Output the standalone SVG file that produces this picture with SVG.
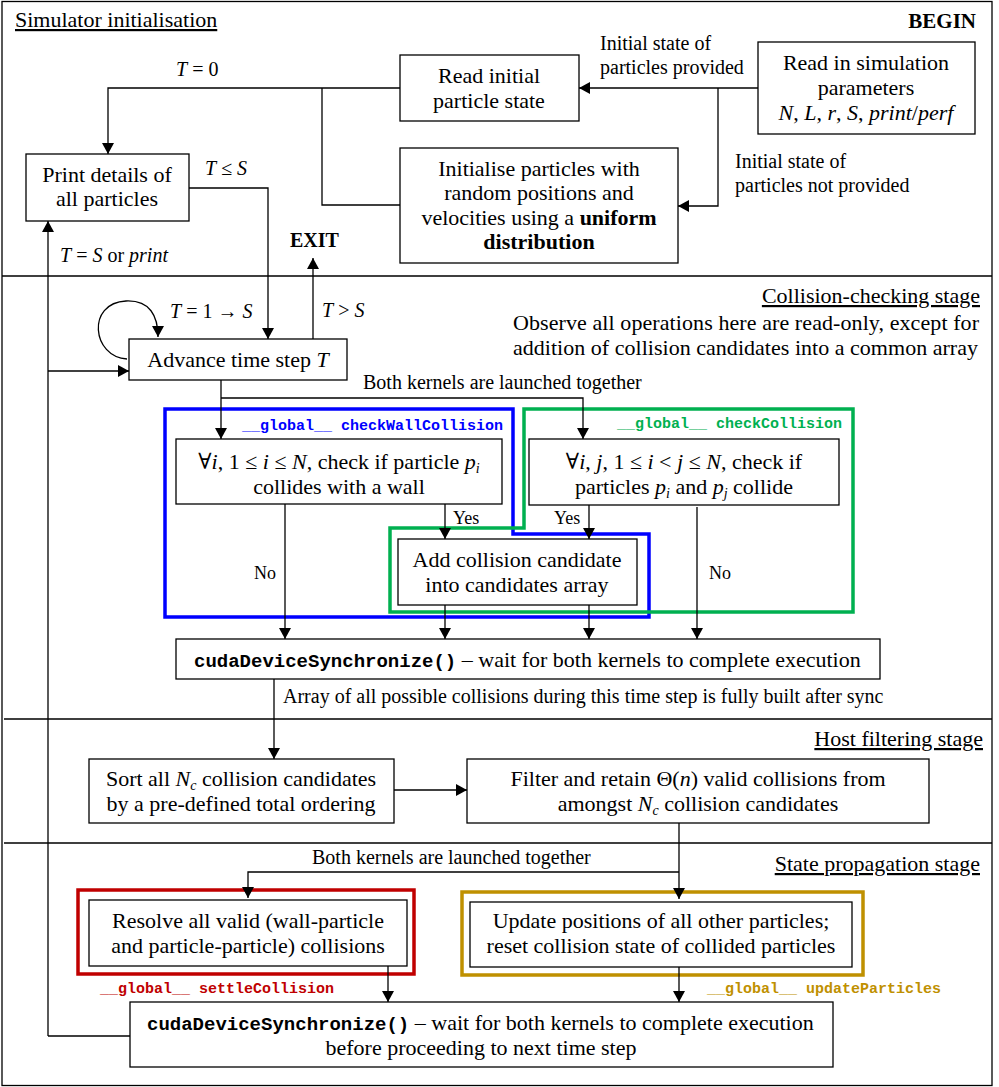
<svg xmlns="http://www.w3.org/2000/svg" width="999" height="1087" viewBox="0 0 999 1087">
<defs>
<marker id="ah" markerUnits="userSpaceOnUse" markerWidth="12" markerHeight="12" refX="11" refY="6" orient="auto">
<path d="M0,0 L11,6 L0,12 z" fill="#000"/>
</marker>
<style>
.box{fill:#fff;stroke:#000;stroke-width:1.3}
.ln{fill:none;stroke:#000;stroke-width:1.3}
.ar{fill:none;stroke:#000;stroke-width:1.3;marker-end:url(#ah)}
text{font-family:"Liberation Serif","DejaVu Serif",serif;font-size:20px;fill:#000}
.t{font-size:22px}
.s{font-size:18px}
.c{text-anchor:middle}
.e{text-anchor:end}
.u{text-decoration:underline}
.b{font-weight:bold}
.i{font-style:italic}
.m{font-family:"Liberation Mono","DejaVu Sans Mono",monospace;font-weight:bold;font-size:15px}
.mm{font-family:"Liberation Mono","DejaVu Sans Mono",monospace;font-weight:bold;font-size:19px}
.blue{fill:none;stroke:#0000FF;stroke-width:3.5}
.green{fill:none;stroke:#00B050;stroke-width:3.5}
.red{fill:none;stroke:#C00000;stroke-width:3.5}
.gold{fill:none;stroke:#BF9000;stroke-width:3.5}
</style>
</defs>
<rect x="0" y="0" width="999" height="1087" fill="#fff"/>
<g id="frame">
<rect x="2" y="1.5" width="990" height="1084" fill="none" stroke="#000" stroke-width="1.3"/>
<path d="M2,276 H992 M4,719 H992 M4,843 H992" class="ln"/>
<text x="15" y="27" class="t u">Simulator initialisation</text>
<text x="976" y="28" class="e b" style="font-size:21px">BEGIN</text>
<text x="980" y="303" class="t e u">Collision-checking stage</text>
<text x="513" y="330" class="t" textLength="466" lengthAdjust="spacing">Observe all operations here are read-only, except for</text>
<text x="513" y="355" class="t" textLength="465" lengthAdjust="spacing">addition of collision candidates into a common array</text>
<text x="983" y="746" class="t e u">Host filtering stage</text>
<text x="980" y="871" class="t e u">State propagation stage</text>
</g>
<g id="kernel-frames">
<path class="blue" d="M165,409 H513 V534 H649 V617 H165 Z"/>
<path class="green" d="M524,409 H853 V612 H390 V528 H524 Z"/>
<path class="red" d="M78,890 H414 V974 H78 Z"/>
<path class="gold" d="M462,892 H863 V975 H462 Z"/>
<text x="242" y="430" class="m" style="fill:#0000FF">__global__ checkWallCollision</text>
<text x="617" y="428" class="m" style="fill:#00B050">__global__ checkCollision</text>
<text x="100" y="993" class="m" style="fill:#C00000">__global__ settleCollision</text>
<text x="707" y="993" class="m" style="fill:#BF9000">__global__ updateParticles</text>
</g>
<g id="connectors">
<path class="ar" d="M758,88 H579"/>
<path class="ar" d="M718,88 V206 H678"/>
<path class="ar" d="M400,88 H108 V154"/>
<path class="ln" d="M400,205 H322 V88"/>
<path class="ar" d="M189,188 H268 V339"/>
<path class="ar" d="M313,339 V258"/>
<path class="ar" d="M127,359 C92,357 86,303 126,301 C150,300 158,316 158,337"/>
<path class="ar" d="M48,1036 V221"/>
<path class="ar" d="M48,371 H129"/>
<path class="ln" d="M130,1036 H48"/>
<path class="ar" d="M221,380 V439"/>
<path class="ar" d="M221,398 H583 V439"/>
<path class="ar" d="M445,504 V539"/>
<path class="ar" d="M589,505 V539"/>
<path class="ar" d="M285,504 V639"/>
<path class="ar" d="M697,507 V639"/>
<path class="ar" d="M445,605 V639"/>
<path class="ar" d="M589,605 V639"/>
<path class="ar" d="M274,679 V759"/>
<path class="ar" d="M394,790 H467"/>
<path class="ar" d="M679,823 V899"/>
<path class="ar" d="M679,872 H248 V898"/>
<path class="ar" d="M388,966 V1002"/>
<path class="ar" d="M679,967 V1002"/>
<text x="176" y="76"><tspan class="i">T</tspan> = 0</text>
<text x="600" y="50">Initial state of</text>
<text x="600" y="74">particles provided</text>
<text x="735" y="168">Initial state of</text>
<text x="735" y="192">particles not provided</text>
<text x="205" y="175"><tspan class="i">T</tspan> ≤ <tspan class="i">S</tspan></text>
<text x="290" y="247" class="b">EXIT</text>
<text x="60" y="262"><tspan class="i">T</tspan> = <tspan class="i">S</tspan> or <tspan class="i">print</tspan></text>
<text x="170" y="318"><tspan class="i">T</tspan> = 1 → <tspan class="i">S</tspan></text>
<text x="322" y="317"><tspan class="i">T</tspan> &gt; <tspan class="i">S</tspan></text>
<text x="363" y="389">Both kernels are launched together</text>
<text x="453" y="524" class="s">Yes</text>
<text x="554" y="524" class="s">Yes</text>
<text x="254" y="579" class="s">No</text>
<text x="709" y="579" class="s">No</text>
<text x="283" y="703">Array of all possible collisions during this time step is fully built after sync</text>
<text x="312" y="864">Both kernels are launched together</text>
</g>
<g id="read-initial">
<rect class="box" x="400" y="55" width="179" height="66"/>
<text x="489" y="83" class="t c">Read initial</text>
<text x="489" y="108" class="t c">particle state</text>
</g>
<g id="read-params">
<rect class="box" x="758" y="42" width="217" height="92"/>
<text x="866" y="70" class="t c">Read in simulation</text>
<text x="866" y="95" class="t c">parameters</text>
<text x="866" y="120" class="t c"><tspan class="i">N</tspan>, <tspan class="i">L</tspan>, <tspan class="i">r</tspan>, <tspan class="i">S</tspan>, <tspan class="i">print</tspan>/<tspan class="i">perf</tspan></text>
</g>
<g id="init-random">
<rect class="box" x="400" y="148" width="278" height="115"/>
<text x="539" y="176" class="t c">Initialise particles with</text>
<text x="539" y="200" class="t c">random positions and</text>
<text x="539" y="225" class="t c">velocities using a <tspan class="b">uniform</tspan></text>
<text x="539" y="249" class="t c b">distribution</text>
</g>
<g id="print-details">
<rect class="box" x="26" y="154" width="163" height="67"/>
<text x="107" y="182" class="t c">Print details of</text>
<text x="107" y="206" class="t c">all particles</text>
</g>
<g id="advance">
<rect class="box" x="129" y="339" width="218" height="41"/>
<text x="238" y="367" class="t c">Advance time step <tspan class="i">T</tspan></text>
</g>
<g id="check-wall">
<rect class="box" x="176" y="439" width="326" height="65"/>
<text x="339" y="469" class="t c">∀<tspan class="i">i</tspan>, 1 ≤ <tspan class="i">i</tspan> ≤ <tspan class="i">N</tspan>, check if particle <tspan class="i">p</tspan><tspan class="i" font-size="14" dy="4">i</tspan></text>
<text x="339" y="494" class="t c">collides with a wall</text>
</g>
<g id="check-collision">
<rect class="box" x="529" y="439" width="310" height="66"/>
<text x="684" y="469" class="t c">∀<tspan class="i">i</tspan>, <tspan class="i">j</tspan>, 1 ≤ <tspan class="i">i</tspan> &lt; <tspan class="i">j</tspan> ≤ <tspan class="i">N</tspan>, check if</text>
<text x="684" y="494" class="t c">particles <tspan class="i">p</tspan><tspan class="i" font-size="14" dy="4">i</tspan><tspan dy="-4"> and </tspan><tspan class="i">p</tspan><tspan class="i" font-size="14" dy="4">j</tspan><tspan dy="-4"> collide</tspan></text>
</g>
<g id="add-candidate">
<rect class="box" x="398" y="539" width="239" height="66"/>
<text x="517" y="567" class="t c">Add collision candidate</text>
<text x="517" y="592" class="t c">into candidates array</text>
</g>
<g id="sync-1">
<rect class="box" x="176" y="639" width="704" height="40"/>
<text x="194" y="667" class="t"><tspan class="mm">cudaDeviceSynchronize()</tspan> – wait for both kernels to complete execution</text>
</g>
<g id="sort">
<rect class="box" x="89" y="759" width="305" height="64"/>
<text x="241" y="786" class="t c">Sort all <tspan class="i">N</tspan><tspan class="i" font-size="14" dy="4">c</tspan><tspan dy="-4"> collision candidates</tspan></text>
<text x="241" y="811" class="t c">by a pre-defined total ordering</text>
</g>
<g id="filter">
<rect class="box" x="467" y="759" width="462" height="64"/>
<text x="698" y="786" class="t c">Filter and retain Θ(<tspan class="i">n</tspan>) valid collisions from</text>
<text x="698" y="811" class="t c">amongst <tspan class="i">N</tspan><tspan class="i" font-size="14" dy="4">c</tspan><tspan dy="-4"> collision candidates</tspan></text>
</g>
<g id="resolve">
<rect class="box" x="89" y="900" width="318" height="66"/>
<text x="248" y="928" class="t c">Resolve all valid (wall-particle</text>
<text x="248" y="953" class="t c">and particle-particle) collisions</text>
</g>
<g id="update">
<rect class="box" x="470" y="902" width="382" height="65"/>
<text x="661" y="928" class="t c">Update positions of all other particles;</text>
<text x="661" y="953" class="t c">reset collision state of collided particles</text>
</g>
<g id="sync-2">
<rect class="box" x="130" y="1002" width="703" height="65"/>
<text x="147" y="1030" class="t"><tspan class="mm">cudaDeviceSynchronize()</tspan> – wait for both kernels to complete execution</text>
<text x="481" y="1055" class="t c">before proceeding to next time step</text>
</g>
</svg>
